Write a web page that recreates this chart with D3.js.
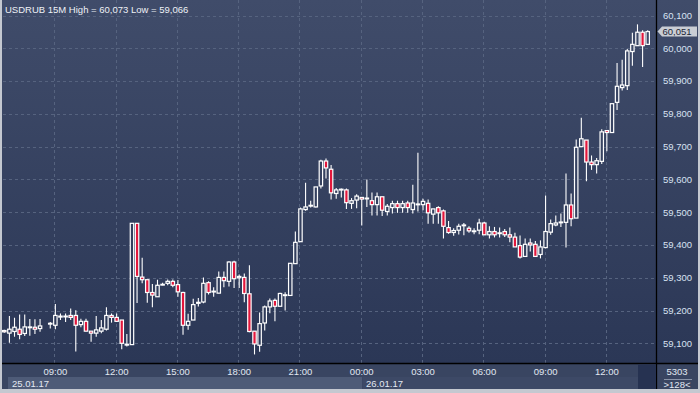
<!DOCTYPE html>
<html>
<head>
<meta charset="utf-8">
<script src="https://cdn.jsdelivr.net/npm/d3@7"></script>
<style>
  html, body { margin: 0; padding: 0; background: #c4c8d0; }
  svg { display: block; font-family: "Liberation Sans", Arial, sans-serif; }
</style>
</head>
<body>
<svg id="chart" width="700" height="393"></svg>
<script>
// 15 minute bars, 25.01.17 06:30 .. 26.01.17 14:00 (null = no bar)
const opens = [
  59139, 59131, 59136, 59143, 59130, 59148, 59149, 59145, null, 59159,
  59155, 59180, 59182, 59185, 59185, 59157, 59167, 59137, 59131, 59137,
  59143, 59185, 59179, 59171, 59096, 59096, 59466, 59302, 59294, 59255,
  59242, 59278, 59283, 59289, 59279, 59255, 59155, 59171, 59222, 59226,
  59285, 59258, 59253, 59301, 59289, 59348, 59300, 59301, 59251, 59137,
  59094, 59162, 59211, 59231, 59213, 59246, 59246, 59343, 59410, 59508,
  59519, 59516, 59580, 59656, 59631, 59557, 59569, 59568, 59527, 59537,
  59545, 59542, 59535, 59523, 59547, 59502, 59514, 59526, 59514, 59528,
  59508, 59524, 59523, 59527, 59494, 59514, 59504, 59453, 59438, 59445,
  59460, 59451, 59442, 59445, 59467, 59431, 59441, 59436, 59441, 59431,
  59424, 59398, 59365, 59406, 59402, 59371, 59392, 59439, 59461, 59468,
  59469, 59522, 59482, 59700, 59720, 59653, 59645, 59655, 59749, 59743,
  59835, 59880, 59886, 59990, 60008, 60049, 60012
];
const highs = [
  59141, 59183, 59178, 59188, 59188, 59174, 59173, 59174, null, 59165,
  59220, 59191, 59191, 59206, 59201, 59175, 59175, 59137, 59183, 59171,
  59210, 59191, 59191, 59171, 59128, 59466, 59466, 59361, 59294, 59281,
  59294, 59285, 59295, 59295, 59293, 59257, 59190, 59236, 59238, 59301,
  59289, 59271, 59319, 59319, 59350, 59352, 59310, 59313, 59338, 59137,
  59194, 59215, 59237, 59237, 59254, 59256, 59344, 59441, 59514, 59590,
  59535, 59577, 59660, 59664, 59644, 59574, 59572, 59572, 59543, 59555,
  59545, 59600, 59560, 59560, 59547, 59525, 59535, 59535, 59535, 59535,
  59584, 59681, 59541, 59539, 59510, 59518, 59508, 59473, 59451, 59465,
  59467, 59457, 59451, 59480, 59471, 59457, 59455, 59453, 59449, 59453,
  59437, 59429, 59420, 59420, 59412, 59414, 59551, 59478, 59490, 59496,
  59618, 59557, 59722, 59788, 59720, 59673, 59665, 59753, 59749, 59831,
  59955, 59965, 59998, 60047, 60073, 60055, 60055
];
const lows = [
  59132, 59102, 59120, 59112, 59122, 59123, 59128, 59135, null, 59145,
  59143, 59171, 59165, 59171, 59075, 59149, 59137, 59105, 59120, 59131,
  59139, 59163, 59165, 59082, 59090, 59096, 59223, 59283, 59224, 59210,
  59242, 59277, 59277, 59271, 59242, 59126, 59141, 59171, 59212, 59222,
  59249, 59242, 59253, 59271, 59273, 59269, 59269, 59225, 59134, 59066,
  59074, 59139, 59192, 59167, 59213, 59200, 59244, 59343, 59410, 59504,
  59514, 59514, 59572, 59603, 59539, 59541, 59545, 59510, 59510, 59512,
  59459, 59516, 59490, 59490, 59488, 59490, 59496, 59498, 59498, 59498,
  59496, 59502, 59506, 59465, 59465, 59465, 59420, 59434, 59428, 59432,
  59430, 59437, 59433, 59433, 59431, 59420, 59423, 59423, 59424, 59408,
  59394, 59359, 59365, 59380, 59365, 59359, 59390, 59431, 59457, 59455,
  59392, 59457, 59482, 59700, 59594, 59629, 59618, 59647, 59686, 59743,
  59812, 59871, 59873, 59947, 60008, 59943, 60010
];
const closes = [
  59135, 59143, 59149, 59127, 59150, 59150, 59143, 59153, null, 59161,
  59185, 59183, 59183, 59179, 59155, 59167, 59137, 59131, 59141, 59147,
  59185, 59179, 59167, 59100, 59097, 59466, 59304, 59294, 59255, 59247,
  59277, 59280, 59289, 59277, 59257, 59155, 59167, 59218, 59225, 59283,
  59255, 59259, 59301, 59291, 59348, 59297, 59304, 59252, 59136, 59098,
  59160, 59211, 59229, 59213, 59252, 59248, 59344, 59408, 59510, 59516,
  59521, 59577, 59656, 59635, 59559, 59568, 59570, 59529, 59535, 59549,
  59540, 59543, 59523, 59547, 59506, 59518, 59526, 59514, 59526, 59514,
  59528, 59525, 59533, 59498, 59510, 59498, 59457, 59438, 59444, 59457,
  59461, 59443, 59443, 59467, 59431, 59441, 59431, 59437, 59431, 59424,
  59394, 59363, 59402, 59400, 59365, 59394, 59441, 59465, 59467, 59470,
  59522, 59480, 59698, 59724, 59653, 59645, 59657, 59745, 59743, 59831,
  59884, 59888, 59992, 60012, 60049, 60008, 60051
];

const timeTickIdx = [10, 22, 34, 46, 58, 70, 82, 94, 106, 118];
const timeTickLabels = ['09:00', '12:00', '15:00', '18:00', '21:00', '00:00', '03:00', '06:00', '09:00', '12:00'];
const priceTicks = [59100, 59200, 59300, 59400, 59500, 59600, 59700, 59800, 59900, 60000, 60100];
const dateLabels = ['25.01.17', '26.01.17'];
const dateStartIdx = [0, 70];

const title = 'USDRUB 15M High = 60,073 Low = 59,066';
const lastPrice = 60051;
const infoTop = '5303';
const infoBottom = '>128<';

const W = 700, H = 393;
const plotLeft = 3, plotRight = 656.5, plotBottom = 363.5;
const fmt = d3.format(',d');
const priceFmt = v => fmt(v).replace(',', '\u2009').replace('\u2009', ',');

const svg = d3.select('#chart');

const defs = svg.append('defs');
const grad = defs.append('linearGradient')
  .attr('id', 'bg')
  .attr('gradientUnits', 'userSpaceOnUse')
  .attr('x1', 0).attr('y1', 0).attr('x2', 0).attr('y2', plotBottom);
grad.append('stop').attr('offset', '0%').attr('stop-color', '#404c6a');
grad.append('stop').attr('offset', '100%').attr('stop-color', '#2b3756');

const x = d3.scaleLinear().domain([0, 126]).range([4.3, 647.7]);
const y = d3.scaleLinear().domain([59100, 60100]).range([343.3, 15.5]);

// panels
svg.append('rect').attr('x', 0).attr('y', 0).attr('width', W).attr('height', H).attr('fill', '#c4c8d0');
svg.append('rect').attr('x', 2).attr('y', 0).attr('width', 696).attr('height', plotBottom)
  .attr('fill', 'url(#bg)');
svg.append('rect').attr('x', 2).attr('y', plotBottom).attr('width', 696).attr('height', 389 - plotBottom)
  .attr('fill', '#394561');

// grid
const grid = svg.append('g')
  .attr('stroke', '#56637f')
  .attr('stroke-width', 1)
  .attr('stroke-dasharray', '3,3');

grid.selectAll('line.h')
  .data(priceTicks)
  .enter()
  .append('line')
  .attr('x1', plotLeft)
  .attr('x2', plotRight)
  .attr('y1', d => Math.round(y(d)) + 0.5)
  .attr('y2', d => Math.round(y(d)) + 0.5);

grid.selectAll('line.v')
  .data(timeTickIdx)
  .enter()
  .append('line')
  .attr('x1', d => Math.round(x(d)) - 0.5)
  .attr('x2', d => Math.round(x(d)) - 0.5)
  .attr('y1', 0)
  .attr('y2', plotBottom);

// candles
const bars = d3.range(opens.length).filter(i => opens[i] !== null);
const bodyW = 3.4;

const candles = svg.append('g').selectAll('g')
  .data(bars)
  .enter()
  .append('g');

candles.append('line')
  .attr('x1', i => x(i))
  .attr('x2', i => x(i))
  .attr('y1', i => y(highs[i]))
  .attr('y2', i => y(lows[i]))
  .attr('stroke', '#ffffff')
  .attr('stroke-width', 1.1);

candles.append('rect')
  .attr('x', i => x(i) - bodyW / 2)
  .attr('y', i => y(Math.max(opens[i], closes[i])))
  .attr('width', bodyW)
  .attr('height', i => Math.max(0.8, Math.abs(y(opens[i]) - y(closes[i]))))
  .attr('fill', i => closes[i] < opens[i] ? '#e3173c' : 'url(#bg)')
  .attr('stroke', '#ffffff')
  .attr('stroke-width', 1.2);

// axis lines
svg.append('line').attr('x1', plotRight).attr('x2', plotRight).attr('y1', 0).attr('y2', 389)
  .attr('stroke', '#000').attr('stroke-width', 1.3);
svg.append('line').attr('x1', 2).attr('x2', 698).attr('y1', plotBottom).attr('y2', plotBottom)
  .attr('stroke', '#000').attr('stroke-width', 1.3);

// price axis
svg.append('g').selectAll('text')
  .data(priceTicks)
  .enter()
  .append('text')
  .attr('x', 663)
  .attr('y', d => y(d))
  .attr('dy', '0.35em')
  .attr('font-size', 9.5)
  .attr('fill', '#d8e2f2')
  .text(d => d3.format(',')(d));

// last price marker
const ly = y(lastPrice);
svg.append('path')
  .attr('d', `M657.5,${ly} L662,${ly - 5} L697,${ly - 5} L697,${ly + 5} L662,${ly + 5} Z`)
  .attr('fill', '#c9cdd4');
svg.append('text')
  .attr('x', 662.5).attr('y', ly).attr('dy', '0.35em')
  .attr('font-size', 9.5).attr('fill', '#1d2636')
  .text(d3.format(',')(lastPrice));

// time axis
svg.append('g').selectAll('text')
  .data(timeTickIdx)
  .enter()
  .append('text')
  .attr('x', d => x(d))
  .attr('y', 375)
  .attr('text-anchor', 'middle')
  .attr('font-size', 9.5)
  .attr('fill', '#e2e8f2')
  .text((d, i) => timeTickLabels[i]);

// date row
const dateBoxes = svg.append('g').selectAll('g')
  .data(dateLabels)
  .enter()
  .append('g');
dateBoxes.append('rect')
  .attr('x', (d, i) => i === 0 ? 8 : Math.round(x(dateStartIdx[i])) + 0.5)
  .attr('y', 377)
  .attr('width', (d, i) => i === 0 ? Math.round(x(dateStartIdx[1])) - 8 : 638 - Math.round(x(dateStartIdx[i])))
  .attr('height', 12)
  .attr('fill', (d, i) => i === 0 ? '#4e5b77' : '#3d4966');
dateBoxes.append('text')
  .attr('x', (d, i) => i === 0 ? 12 : Math.round(x(dateStartIdx[i])) + 4)
  .attr('y', 386.5)
  .attr('font-size', 9.5)
  .attr('fill', '#e2e8f2')
  .text(d => d);

svg.append('rect').attr('x', 638).attr('y', 364.5).attr('width', 18).attr('height', 24.5).attr('fill', '#263251');

// info box
svg.append('text').attr('x', 677).attr('y', 375).attr('text-anchor', 'middle')
  .attr('font-size', 9.5).attr('fill', '#e2e8f2').text(infoTop);
svg.append('line').attr('x1', 664).attr('x2', 692).attr('y1', 379.5).attr('y2', 379.5)
  .attr('stroke', '#8a94a8').attr('stroke-width', 1);
svg.append('text').attr('x', 677).attr('y', 387.5).attr('text-anchor', 'middle')
  .attr('font-size', 9.5).attr('fill', '#e2e8f2').text(infoBottom);

// title
svg.append('text')
  .attr('x', 5).attr('y', 13)
  .attr('font-size', 9.5)
  .attr('fill', '#eef1f6')
  .text(title);
</script>
</body>
</html>
